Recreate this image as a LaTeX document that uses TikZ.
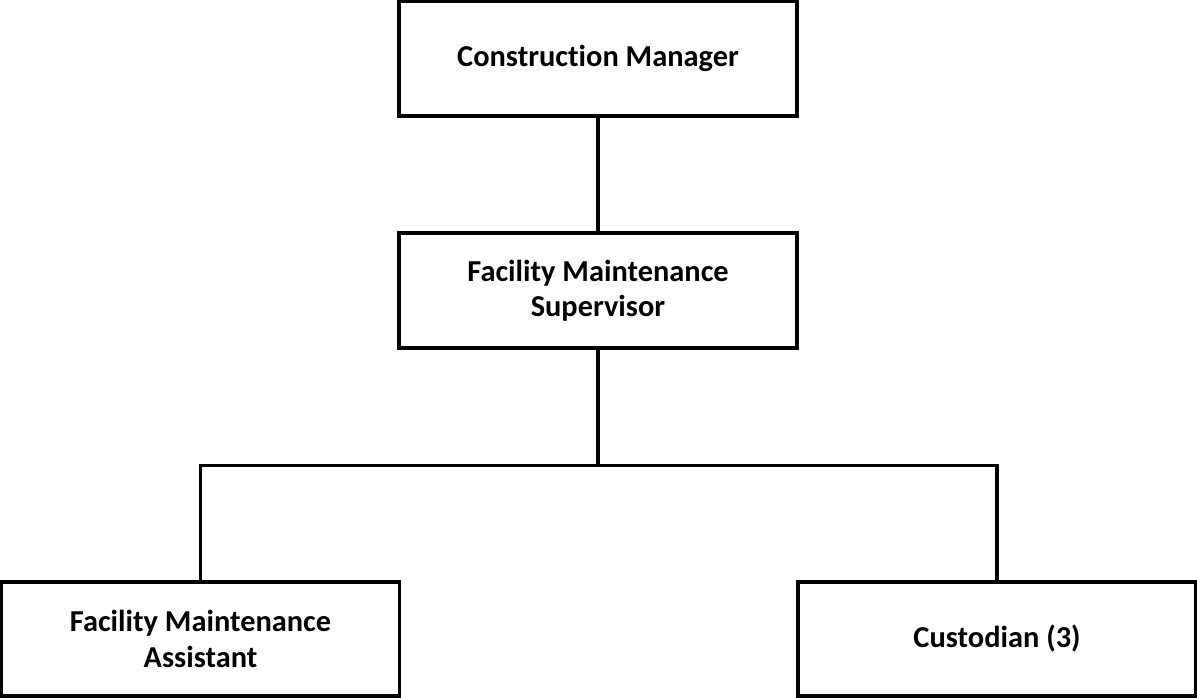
\documentclass[tikz,border=0pt]{standalone}
\usepackage{fontspec}
\setmainfont{Carlito}[Ligatures=NoCommon]
\usetikzlibrary{positioning}

\tikzset{
  rolebox/.style={draw, line width=1.45pt, minimum width=149.25pt,
    minimum height=42.9pt, align=center, inner sep=2pt,
    font=\fontsize{11.4}{13.2}\selectfont\bfseries},
  orgline/.style={line width=1.45pt}
}

\begin{document}
\begin{tikzpicture}[x=0.375pt, y=-0.375pt]
\useasboundingbox (0,0) rectangle (1197,698);
% Boxes of the chart, one per role
\node[rolebox] (mgr) at (598,58.5) {Construction Manager};
\node[rolebox] (sup) at (598,290.5) {Facility Maintenance\\Supervisor};
\node[rolebox] (asst) at (200.5,639) {Facility Maintenance\\Assistant};
\node[rolebox] (cust) at (997,639) {Custodian (3)};
% Reporting lines
\coordinate (split) at (598,465.5);
\draw[orgline] (mgr) -- (sup);
\draw[orgline] (sup) -- (split);
\draw[orgline] (asst.north) |- (split) -| (cust.north);
\end{tikzpicture}
\end{document}
